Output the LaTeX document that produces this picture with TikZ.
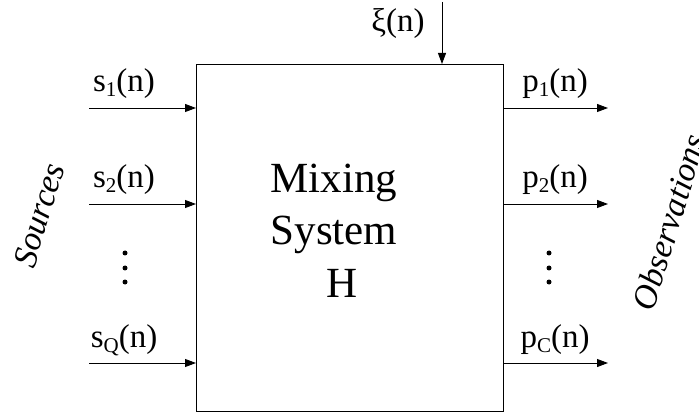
\documentclass[tikz,border=0pt]{standalone}
\usepackage{fontspec}
\setmainfont{Liberation Serif}
\usetikzlibrary{arrows.meta}
\newcommand\sig[2]{#1\raisebox{-5pt}{\fontsize{21}{21}\selectfont #2}(n)}
\begin{document}
\begin{tikzpicture}[x=1pt,y=-1pt,line width=0.9pt,
  arr/.style={-{Triangle[length=11pt,width=8pt]}},
  lab/.style={anchor=base,inner sep=0pt,font=\fontsize{33}{33}\selectfont},
  big/.style={anchor=base,inner sep=0pt,font=\fontsize{43}{43}\selectfont},
  side/.style={inner sep=0pt,rotate=73,font=\fontsize{34}{34}\selectfont\itshape},
  dot/.style={circle,fill,inner sep=0pt,minimum size=5pt}]
\useasboundingbox (0,0) rectangle (699,414);
\node[draw,minimum width=307pt,minimum height=347pt,inner sep=0pt,anchor=north west] (box) at (196,64) {};
% inputs
\coordinate (in1) at (89,108);
\coordinate (in2) at (89,204);
\coordinate (inQ) at (89,363);
\draw[arr] (in1) -- (in1 -| box.west);
\draw[arr] (in2) -- (in2 -| box.west);
\draw[arr] (inQ) -- (inQ -| box.west);
\node[lab] (ls1) at (124,92) {\sig{s}{1}};
\node[lab] (ls2) at (124,188) {\sig{s}{2}};
\node[lab] (lsQ) at (124,347) {\sig{s}{Q}};
\node[dot] (sd1) at (125,253) {};
\node[dot] (sd2) at (125,268) {};
\node[dot] (sd3) at (125,282) {};
% outputs
\coordinate (out1) at (608,108);
\coordinate (out2) at (608,204);
\coordinate (outC) at (608,363);
\draw[arr] (out1 -| box.east) -- (out1);
\draw[arr] (out2 -| box.east) -- (out2);
\draw[arr] (outC -| box.east) -- (outC);
\node[lab] (lp1) at (555,92) {\sig{p}{1}};
\node[lab] (lp2) at (555,188) {\sig{p}{2}};
\node[lab] (lpC) at (555,347) {\sig{p}{C}};
\node[dot] (pd1) at (549,253) {};
\node[dot] (pd2) at (549,268) {};
\node[dot] (pd3) at (549,282) {};
% noise
\coordinate (xi) at (442,2);
\draw[arr] (xi) -- (xi |- box.north);
\node[lab] (lxi) at (398,32) {ξ(n)};
% box text
\node[big] (t1) at (334,193) {Mixing};
\node[big] (t2) at (334,244) {System};
\node[big] (t3) at (342,298) {H};
% side labels
\node[side] (src) at (39,215) {Sources};
\node[side] (obs) at (669,222) {Observations};
\end{tikzpicture}
\end{document}
